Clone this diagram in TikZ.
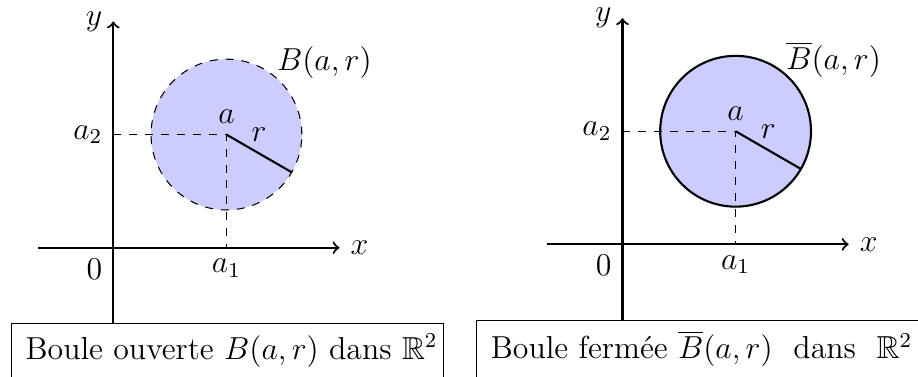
\documentclass[12pt,tikz,border=0pt]{standalone}
\usepackage{amsmath,amssymb}
\tikzset{
  axisline/.style={thick,->},
  guide/.style={dashed},
  ballfill/.style={fill=blue!20},
  openrim/.style={dashed},
  closedrim/.style={thick},
  radiusline/.style={thick},
  captionbox/.style={draw, anchor=north west, inner xsep=5.5pt, inner ysep=4pt, text depth=14pt},
}
\begin{document}
\begin{tikzpicture}
\useasboundingbox (-1.503,-1.702) rectangle (10.672,3.285);
% ---------------- left: open ball ----------------
\begin{scope}
  \coordinate (LO) at (0,0);
  \coordinate (Lxs) at (-1,0);
  \coordinate (Lxe) at (3,0);
  \coordinate (Lys) at (0,-1);
  \coordinate (Lye) at (0,3);
  \coordinate (LC) at (1.5,1.5);
  \coordinate (La1) at (1.5,0);
  \coordinate (La2) at (0,1.5);
  \coordinate (LR) at (2.366,1.0);
  \fill[ballfill] (LC) circle (1);
  \draw[guide] (La2) -- (LC) -- (La1);
  \draw[openrim] (LC) circle (1);
  \draw[radiusline] (LC) -- node[above] (Lr) {$r$} (LR);
  \draw[axisline] (Lxs) -- (Lxe);
  \draw[axisline] (Lys) -- (Lye);
  \node[right] (Lx) at (Lxe) {$x$};
  \node[left] (Ly) at (Lye) {$y$};
  \node[below left] (L0) at (LO) {$0$};
  \node[below] (La1l) at (La1) {$a_1$};
  \node[left] (La2l) at (La2) {$a_2$};
  \node[above] (Lal) at (LC) {$a$};
  \node (LB) at (2.8,2.45) {$B(a,r)$};
  \node[captionbox] (Lcap) at (-1.363,-1) {\makebox[152pt][l]{Boule ouverte $B(a,r)$ dans $\mathbb{R}^2$}};
\end{scope}
% ---------------- right: closed ball ----------------
\begin{scope}[shift={(6.753,0.044)}]
  \coordinate (RO) at (0,0);
  \coordinate (Rxs) at (-1,0);
  \coordinate (Rxe) at (3,0);
  \coordinate (Rys) at (0,-1);
  \coordinate (Rye) at (0,3);
  \coordinate (RC) at (1.5,1.5);
  \coordinate (Ra1) at (1.5,0);
  \coordinate (Ra2) at (0,1.5);
  \coordinate (RR) at (2.366,1.0);
  \fill[ballfill] (RC) circle (1);
  \draw[guide] (Ra2) -- (RC) -- (Ra1);
  \draw[closedrim] (RC) circle (1);
  \draw[radiusline] (RC) -- node[above] (Rr) {$r$} (RR);
  \draw[axisline] (Rxs) -- (Rxe);
  \draw[axisline] (Rys) -- (Rye);
  \node[right] (Rx) at (Rxe) {$x$};
  \node[left] (Ry) at (Rye) {$y$};
  \node[below left] (R0) at (RO) {$0$};
  \node[below] (Ra1l) at (Ra1) {$a_1$};
  \node[left] (Ra2l) at (Ra2) {$a_2$};
  \node[above] (Ral) at (RC) {$a$};
  \node (RB) at (2.8,2.45) {$\overline{B}(a,r)$};
  \node[captionbox] (Rcap) at (-1.946,-1) {\makebox[220pt][l]{Boule fermée $\overline{B}(a,r)$ \ dans \ $\mathbb{R}^2$}};
\end{scope}
\end{tikzpicture}
\end{document}
